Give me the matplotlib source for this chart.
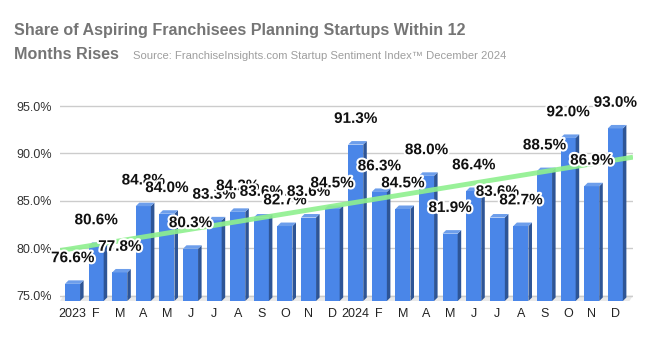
import numpy as np
import matplotlib
matplotlib.use("Agg")
import matplotlib.pyplot as plt
from matplotlib.patches import Polygon
import matplotlib.patheffects as pe

months = ["2023", "F", "M", "A", "M", "J", "J", "A", "S", "O", "N", "D",
          "2024", "F", "M", "A", "M", "J", "J", "A", "S", "O", "N", "D"]
values = [76.6, 80.6, 77.8, 84.8, 84.0, 80.3, 83.3, 84.2, 83.6, 82.7, 83.6, 84.5,
          91.3, 86.3, 84.5, 88.0, 81.9, 86.4, 83.6, 82.7, 88.5, 92.0, 86.9, 93.0]
yticks = [75, 80, 85, 90, 95]
title_l1 = "Share of Aspiring Franchisees Planning Startups Within 12"
title_l2 = "Months Rises"
source = "Source: FranchiseInsights.com Startup Sentiment Index\u2122 December 2024"

plt.rcParams['font.family'] = ['Liberation Sans', 'DejaVu Sans']

W, H = 650, 338
fig = plt.figure(figsize=(6.5, 3.38), dpi=100)
fig.patch.set_facecolor("white")
left_px, right_px, bot_px, top_px = 60, 633, 301, 70
ax = fig.add_axes([left_px / W, (H - bot_px) / H, (right_px - left_px) / W, (bot_px - top_px) / H])
ymin, ymax = 74.42, 98.8
x0, x1 = -0.53, 23.75
ax.set_xlim(x0, x1)
ax.set_ylim(ymin, ymax)
for s in ax.spines.values():
    s.set_visible(False)

# floor
ax.add_patch(Polygon([(x0, ymin), (x1 - 0.15, ymin), (x1, 75.0), (x0 + 0.15, 75.0)],
                     closed=True, facecolor="#e9e9e9", edgecolor="none", zorder=0.5))
ax.set_yticks(yticks)
ax.set_yticklabels([f"{t:.1f}%" for t in yticks], fontsize=9, color="#333333")
ax.yaxis.grid(True, color="#cccccc", linewidth=1, zorder=0)
ax.set_axisbelow(True)
ax.tick_params(axis="y", length=0, pad=6)

x = np.arange(len(values))
ax.set_xticks(x)
ax.set_xticklabels(months, fontsize=9, color="#222222")
ax.tick_params(axis="x", length=0, pad=5)

bw = 0.64
dx, dy = 0.15, 0.37
front = "#4a86e8"
side = "#2e5596"
topc = "#6d9eeb"
vals = np.array(values)
ax.bar(x, vals - dy - ymin, bottom=ymin, width=bw, color=front, edgecolor="none", zorder=2)
for xi, v in zip(x, vals):
    r = xi + bw / 2
    l = xi - bw / 2
    ax.add_patch(Polygon([(r, ymin), (r + dx, ymin + dy), (r + dx, v), (r, v - dy)],
                         closed=True, facecolor=side, edgecolor="none", zorder=2))
    ax.add_patch(Polygon([(l, v - dy), (r, v - dy), (r + dx, v), (l + dx, v)],
                         closed=True, facecolor=topc, edgecolor="none", zorder=2))

# trendline (least squares)
m, b = np.polyfit(x, vals, 1)
xs = np.array([x0, x1])
ax.plot(xs, m * xs + b, color="#8ef08e", linewidth=3.5, alpha=0.9, zorder=3,
        solid_capstyle="butt")

for xi, v in zip(x, vals):
    ax.text(xi, v + 2.34, f"{v:.1f}%", ha="center", va="center", fontsize=11,
            fontweight="bold", color="#111111", zorder=5,
            path_effects=[pe.withStroke(linewidth=3, foreground="white")])

fig.text(14 / W, 1 - 35 / H, title_l1,
         fontsize=11.6, fontweight="bold", color="#757575", va="baseline", ha="left")
fig.text(14 / W, 1 - 59 / H, title_l2,
         fontsize=11.6, fontweight="bold", color="#757575", va="baseline", ha="left")
fig.text(133 / W, 1 - 59 / H, source, fontsize=8.1, color="#9e9e9e",
         va="baseline", ha="left")

fig.savefig("out.png", dpi=100, facecolor="white")
